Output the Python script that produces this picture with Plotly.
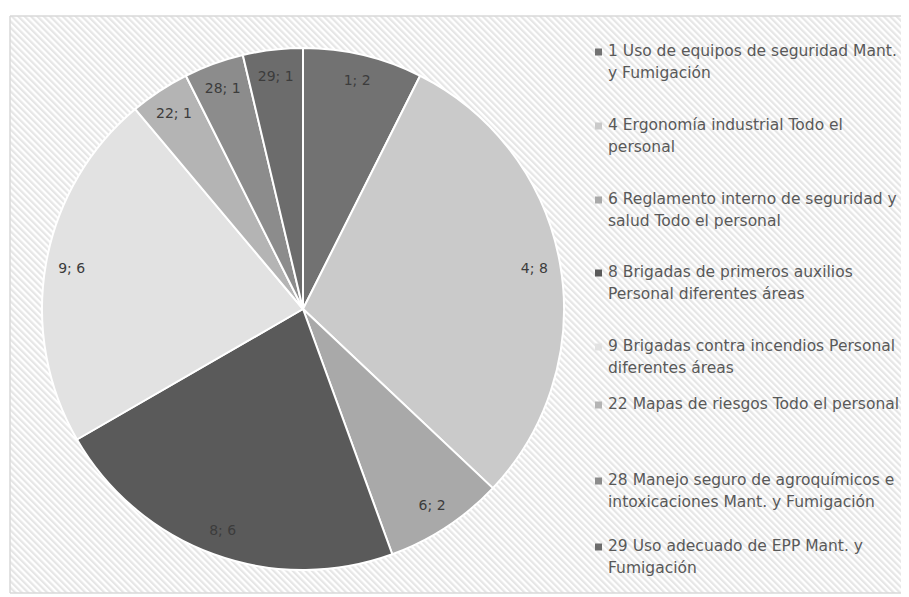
import plotly.graph_objects as go
import urllib.parse

# ---- data ----
item_ids = [1, 4, 6, 8, 9, 22, 28, 29]
item_values = [2, 8, 2, 6, 6, 1, 1, 1]
item_names = [
    "1 Uso de equipos de seguridad Mant. y Fumigación",
    "4 Ergonomía industrial Todo el personal",
    "6 Reglamento interno de seguridad y salud Todo el personal",
    "8 Brigadas de primeros auxilios Personal diferentes áreas",
    "9 Brigadas contra incendios Personal diferentes áreas",
    "22 Mapas de riesgos Todo el personal",
    "28 Manejo seguro de agroquímicos e intoxicaciones Mant. y Fumigación",
    "29 Uso adecuado de EPP Mant. y Fumigación",
]
legend_lines = [
    ["1 Uso de equipos de seguridad Mant.", "y Fumigación"],
    ["4 Ergonomía industrial Todo el", "personal"],
    ["6 Reglamento interno de seguridad y", "salud Todo el personal"],
    ["8 Brigadas de primeros auxilios", "Personal diferentes áreas"],
    ["9 Brigadas contra incendios Personal", "diferentes áreas"],
    ["22 Mapas de riesgos Todo el personal"],
    ["28 Manejo seguro de agroquímicos e", "intoxicaciones Mant. y Fumigación"],
    ["29 Uso adecuado de EPP Mant. y", "Fumigación"],
]

# ---- style ----
slice_colors = ["#727272", "#cacaca", "#a9a9a9", "#5a5a5a",
                "#e2e2e2", "#b4b4b4", "#8c8c8c", "#6c6c6c"]
OFF = 8                       # default page body margin
W, H = 909 - OFF, 597 - OFF   # figure size so the page fits the window
FONT = "DejaVu Sans"
TEXT_COLOR = "#595959"
LABEL_COLOR = "#3c3c3c"


def px(x):
    return (x - OFF) / W


def py(y):
    return 1 - (y - OFF) / H


cx, cy, r = 303, 309, 261
dom_x = [px(cx - r), px(cx + r)]
dom_y = [py(cy + r), py(cy - r)]

fig = go.Figure()
fig.add_trace(go.Pie(
    labels=item_names, values=item_values, sort=False,
    direction="clockwise", rotation=0,
    marker=dict(colors=slice_colors, line=dict(color="white", width=2)),
    textinfo="none", showlegend=False, domain=dict(x=dom_x, y=dom_y),
    hovertemplate="%{label}: %{value}<extra></extra>",
))
# transparent ring trace that carries the slice labels near the rim
fig.add_trace(go.Pie(
    labels=item_names, values=item_values, sort=False,
    direction="clockwise", rotation=0, hole=0.8,
    customdata=item_ids,
    marker=dict(colors=["rgba(0,0,0,0)"] * len(item_ids), line=dict(width=0)),
    texttemplate="%{customdata}; %{value}", textposition="inside",
    insidetextorientation="horizontal",
    insidetextfont=dict(family=FONT, size=14, color=LABEL_COLOR),
    showlegend=False, hoverinfo="skip", domain=dict(x=dom_x, y=dom_y),
))

# hatched background as an inline SVG image
fx0, fy0, fx1, fy1 = 10, 16, 909, 593
fw, fh = fx1 - fx0, fy1 - fy0
svg = (
    f'<svg xmlns="http://www.w3.org/2000/svg" width="{fw}" height="{fh}">'
    '<defs><pattern id="p" width="4.5" height="4.5" patternUnits="userSpaceOnUse" '
    'patternTransform="rotate(-45)">'
    '<rect width="4.5" height="4.5" fill="#ffffff"/>'
    '<rect width="2.2" height="4.5" fill="#e6e6e6"/></pattern></defs>'
    f'<rect width="{fw}" height="{fh}" fill="url(#p)"/></svg>'
)
src = "data:image/svg+xml;charset=utf-8," + urllib.parse.quote(svg)

# frame: left, top and bottom edges (right edge runs off the picture)
frame = dict(color="#d9d9d9", width=1.5)
shapes = [
    dict(type="line", xref="paper", yref="paper", x0=px(fx0), x1=px(fx0),
         y0=py(fy1), y1=py(fy0), line=frame, layer="below"),
    dict(type="line", xref="paper", yref="paper", x0=px(fx0), x1=1,
         y0=py(fy0), y1=py(fy0), line=frame, layer="below"),
    dict(type="line", xref="paper", yref="paper", x0=px(fx0), x1=1,
         y0=py(fy1), y1=py(fy1), line=frame, layer="below"),
]

annotations = []
item_y = [51, 125, 199, 272, 346, 404, 480, 546]
line_gap = 22
sq = 7
for i, lines in enumerate(legend_lines):
    y0 = item_y[i]
    shapes.append(dict(type="rect", xref="paper", yref="paper",
                       x0=px(595), x1=px(595 + sq),
                       y0=py(y0 + 1 + sq / 2), y1=py(y0 + 1 - sq / 2),
                       fillcolor=slice_colors[i], line=dict(width=0)))
    for j, t in enumerate(lines):
        annotations.append(dict(
            text=t, xref="paper", yref="paper", x=px(606),
            y=py(y0 + j * line_gap), xanchor="left", yanchor="middle",
            showarrow=False, font=dict(family=FONT, size=15.5, color=TEXT_COLOR)))

fig.update_layout(
    width=W, height=H, margin=dict(l=0, r=0, t=0, b=0),
    paper_bgcolor="white", plot_bgcolor="white",
    images=[dict(source=src, xref="paper", yref="paper", x=px(fx0), y=py(fy0),
                 sizex=fw / W, sizey=fh / H, sizing="stretch",
                 xanchor="left", yanchor="top", layer="below")],
    shapes=shapes, annotations=annotations,
)
fig.write_html("out.html")
